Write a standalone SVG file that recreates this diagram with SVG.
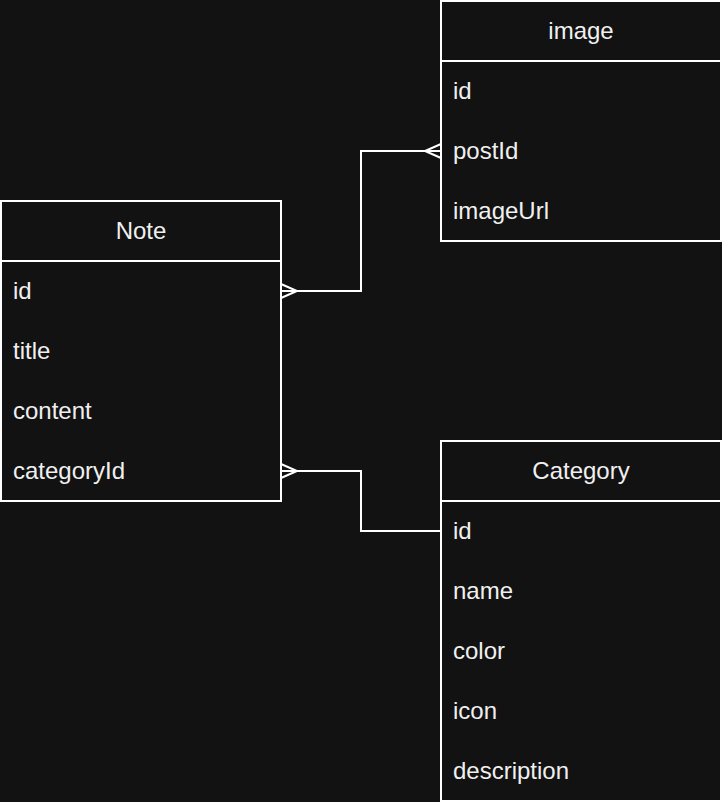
<svg xmlns="http://www.w3.org/2000/svg" width="722" height="802" viewBox="0 0 722 802">
<style>
.box{fill:#121212;stroke:#ffffff;stroke-width:2}
.sep{stroke:#ffffff;stroke-width:2}
.t{font-family:"Liberation Sans",Arial,sans-serif;font-size:24px;fill:#f0f0f0}
.h{text-anchor:middle}
.edge{fill:none;stroke:#ffffff;stroke-width:2}
</style>
<rect width="722" height="802" fill="#121212"/>
<g id="image">
<rect class="box" x="441" y="1" width="280" height="240"/>
<line class="sep" x1="441" y1="61" x2="721" y2="61"/>
<text class="t h" x="581" y="39">image</text>
<text class="t" x="453" y="99">id</text>
<text class="t" x="453" y="159">postId</text>
<text class="t" x="453" y="219">imageUrl</text>
</g>
<g id="note">
<rect class="box" x="1" y="201" width="280" height="300"/>
<line class="sep" x1="1" y1="261" x2="281" y2="261"/>
<text class="t h" x="141" y="239">Note</text>
<text class="t" x="13" y="299">id</text>
<text class="t" x="13" y="359">title</text>
<text class="t" x="13" y="419">content</text>
<text class="t" x="13" y="479">categoryId</text>
</g>
<g id="category">
<rect class="box" x="441" y="441" width="280" height="360"/>
<line class="sep" x1="441" y1="501" x2="721" y2="501"/>
<text class="t h" x="581" y="479">Category</text>
<text class="t" x="453" y="539">id</text>
<text class="t" x="453" y="599">name</text>
<text class="t" x="453" y="659">color</text>
<text class="t" x="453" y="719">icon</text>
<text class="t" x="453" y="779">description</text>
</g>
<g id="connectors">
<path class="edge" d="M281 291 H361 V151 H441"/>
<path class="edge" d="M281 284 L297 291 L281 298"/>
<path class="edge" d="M441 144 L425 151 L441 158"/>
<path class="edge" d="M281 471 H361 V531 H441"/>
<path class="edge" d="M281 464 L297 471 L281 478"/>
</g>
</svg>
